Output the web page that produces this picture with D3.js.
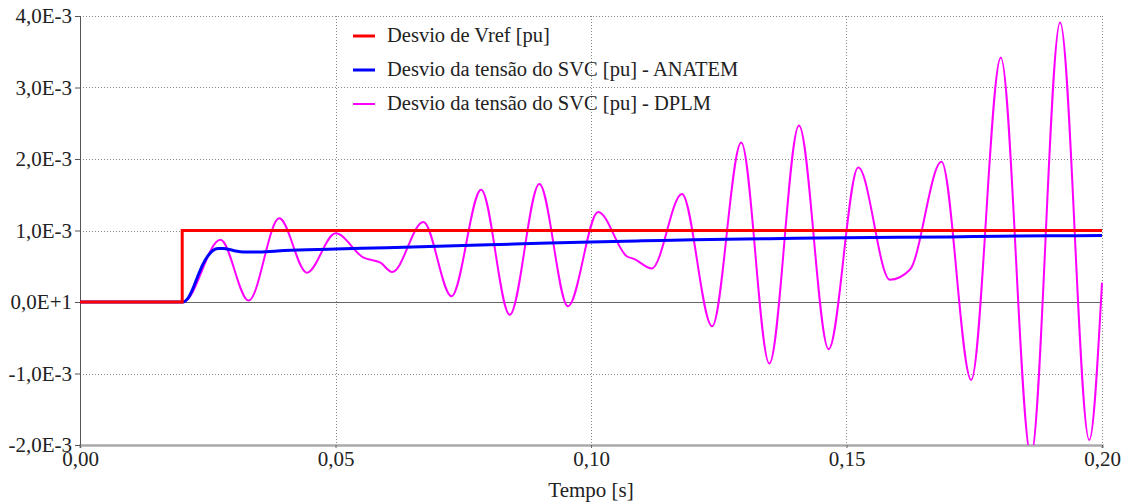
<!DOCTYPE html>
<html>
<head>
<meta charset="utf-8">
<script src="https://cdn.jsdelivr.net/npm/d3@7"></script>
<style>
  body { margin: 0; background: #fff; }
  svg text { font-family: "Liberation Serif", "Times New Roman", serif; fill: #222; }
</style>
</head>
<body>
<svg id="chart" width="1127" height="503"></svg>
<script>
// axis ticks
var xTicks = [0, 0.05, 0.10, 0.15, 0.20];
var xTickLabels = ["0,00", "0,05", "0,10", "0,15", "0,20"];
var yTicks = [-2e-3, -1e-3, 0, 1e-3, 2e-3, 3e-3, 4e-3];
var yTickLabels = ["-2,0E-3", "-1,0E-3", "0,0E+1", "1,0E-3", "2,0E-3", "3,0E-3", "4,0E-3"];

var seriesNames = ["Desvio de Vref [pu]", "Desvio da tensão do SVC [pu] - ANATEM", "Desvio da tensão do SVC [pu] - DPLM"];

// Vref step
var vrefTime = [0, 0.02, 0.02, 0.20];
var vrefValue = [0, 0, 1.0e-3, 1.0e-3];

// ANATEM response
var anatemTime = [0, 0.0201, 0.021, 0.022, 0.023, 0.024, 0.025, 0.026, 0.027, 0.028, 0.030, 0.032, 0.035,
    0.04, 0.05, 0.06, 0.07, 0.08, 0.09, 0.10, 0.11, 0.12, 0.13, 0.14, 0.15, 0.16, 0.17, 0.18, 0.19, 0.20];
var anatemValue = [0, 0, 0.04e-3, 0.17e-3, 0.35e-3, 0.52e-3, 0.64e-3, 0.72e-3, 0.75e-3, 0.75e-3, 0.72e-3, 0.70e-3, 0.70e-3,
    0.72e-3, 0.74e-3, 0.76e-3, 0.78e-3, 0.80e-3, 0.82e-3, 0.84e-3, 0.855e-3, 0.87e-3, 0.88e-3, 0.89e-3, 0.90e-3, 0.905e-3, 0.91e-3, 0.92e-3, 0.925e-3, 0.93e-3];

// DPLM response
var dplmTime = [0, 0.0202, 0.0275, 0.0330, 0.0390, 0.0444, 0.0500, 0.0555, 0.0588, 0.0611, 0.0672, 0.0727,
    0.0785, 0.0841, 0.0899, 0.0955, 0.1014, 0.1070, 0.1085, 0.1119, 0.1178, 0.1237, 0.1294, 0.1349,
    0.1407, 0.1465, 0.1523, 0.1585, 0.1624, 0.1686, 0.1744, 0.1802, 0.1861, 0.1918, 0.1975, 0.2000];
var dplmValue = [0, 0, 0.87e-3, 0.02e-3, 1.17e-3, 0.41e-3, 0.96e-3, 0.62e-3, 0.55e-3, 0.42e-3, 1.12e-3, 0.08e-3,
    1.57e-3, -0.18e-3, 1.65e-3, -0.06e-3, 1.26e-3, 0.64e-3, 0.60e-3, 0.47e-3, 1.51e-3, -0.34e-3, 2.23e-3, -0.86e-3,
    2.47e-3, -0.66e-3, 1.88e-3, 0.31e-3, 0.45e-3, 1.96e-3, -1.09e-3, 3.42e-3, -2.15e-3, 3.91e-3, -1.93e-3, 0.27e-3];

var plotLeft = 80, plotRight = 1102, plotTop = 16, plotBottom = 445;

var svg = d3.select("#chart");

var x = d3.scaleLinear().domain([0, 0.2]).range([plotLeft, plotRight]);
var y = d3.scaleLinear().domain([-2e-3, 4e-3]).range([plotBottom, plotTop]);

// dotted grid
var grid = svg.append("g").attr("class", "grid");
grid.selectAll("line.h")
    .data(yTicks.filter(function (d) { return d !== 0 && d !== -2e-3; }))
    .enter().append("line")
    .attr("x1", plotLeft).attr("x2", plotRight)
    .attr("y1", function (d) { return Math.round(y(d)) + 0.5; })
    .attr("y2", function (d) { return Math.round(y(d)) + 0.5; })
    .attr("stroke", "#888").attr("stroke-dasharray", "1,2");
grid.selectAll("line.v")
    .data(xTicks.slice(1))
    .enter().append("line")
    .attr("x1", function (d) { return Math.round(x(d)) + 0.5; })
    .attr("x2", function (d) { return Math.round(x(d)) + 0.5; })
    .attr("y1", plotTop).attr("y2", plotBottom)
    .attr("stroke", "#888").attr("stroke-dasharray", "1,2");

// zero line
svg.append("line")
    .attr("x1", plotLeft).attr("x2", plotRight)
    .attr("y1", Math.round(y(0)) + 0.5).attr("y2", Math.round(y(0)) + 0.5)
    .attr("stroke", "#666").attr("stroke-width", 1);

// bottom axis
var xAxis = d3.axisBottom(x)
    .tickValues(xTicks)
    .tickFormat(function (d, i) { return xTickLabels[i]; })
    .tickSize(3).tickPadding(3);
var gx = svg.append("g").attr("transform", "translate(0," + plotBottom + ")").call(xAxis);
gx.select(".domain").attr("stroke", "#aaa").attr("stroke-width", 2.5);
gx.selectAll(".tick line").attr("stroke", "#666");
gx.selectAll("text").attr("font-size", "21px").attr("fill", "#222")
    .attr("font-family", "Liberation Serif");

// left axis
var yAxis = d3.axisLeft(y)
    .tickValues(yTicks)
    .tickFormat(function (d, i) { return yTickLabels[i]; })
    .tickSize(5).tickPadding(3);
var gy = svg.append("g").attr("transform", "translate(" + plotLeft + ",0)").call(yAxis);
gy.select(".domain").attr("stroke", "#555").attr("d", "M0.5," + plotTop + "V" + plotBottom);
gy.selectAll(".tick line").attr("stroke", "#555");
gy.selectAll("text").attr("font-size", "21px").attr("fill", "#222")
    .attr("font-family", "Liberation Serif");

// axis title
svg.append("text")
    .attr("x", (plotLeft + plotRight) / 2).attr("y", 497)
    .attr("text-anchor", "middle")
    .attr("font-size", "21px")
    .text("Tempo [s]");

// curves
svg.append("clipPath").attr("id", "plotclip")
    .append("rect").attr("x", plotLeft).attr("y", plotTop - 2)
    .attr("width", plotRight - plotLeft + 1).attr("height", plotBottom - plotTop + 2);

var plot = svg.append("g").attr("clip-path", "url(#plotclip)");

var lineMono = d3.line().x(function (d) { return x(d[0]); }).y(function (d) { return y(d[1]); }).curve(d3.curveMonotoneX);
var lineLin = d3.line().x(function (d) { return x(d[0]); }).y(function (d) { return y(d[1]); });

plot.append("path")
    .datum(dplmTime.map(function (t, i) { return [t, dplmValue[i]]; }))
    .attr("d", lineMono)
    .attr("fill", "none").attr("stroke", "#ff00ff").attr("stroke-width", 2);

plot.append("path")
    .datum(anatemTime.map(function (t, i) { return [t, anatemValue[i]]; }))
    .attr("d", lineMono)
    .attr("fill", "none").attr("stroke", "#0000ff").attr("stroke-width", 3);

plot.append("path")
    .datum(vrefTime.map(function (t, i) { return [t, vrefValue[i]]; }))
    .attr("d", lineLin)
    .attr("fill", "none").attr("stroke", "#ff0000").attr("stroke-width", 3);

// legend
var legendColors = ["#ff0000", "#0000ff", "#ff00ff"];
var legendWidths = [3, 3, 2];
var legendY = [36, 70, 104];
var legend = svg.append("g");
seriesNames.forEach(function (name, i) {
    legend.append("line")
        .attr("x1", 353).attr("x2", 375)
        .attr("y1", legendY[i]).attr("y2", legendY[i])
        .attr("stroke", legendColors[i]).attr("stroke-width", legendWidths[i]);
    legend.append("text")
        .attr("x", 387).attr("y", legendY[i] + 6)
        .attr("font-size", "20.5px")
        .text(name);
});
</script>
</body>
</html>
